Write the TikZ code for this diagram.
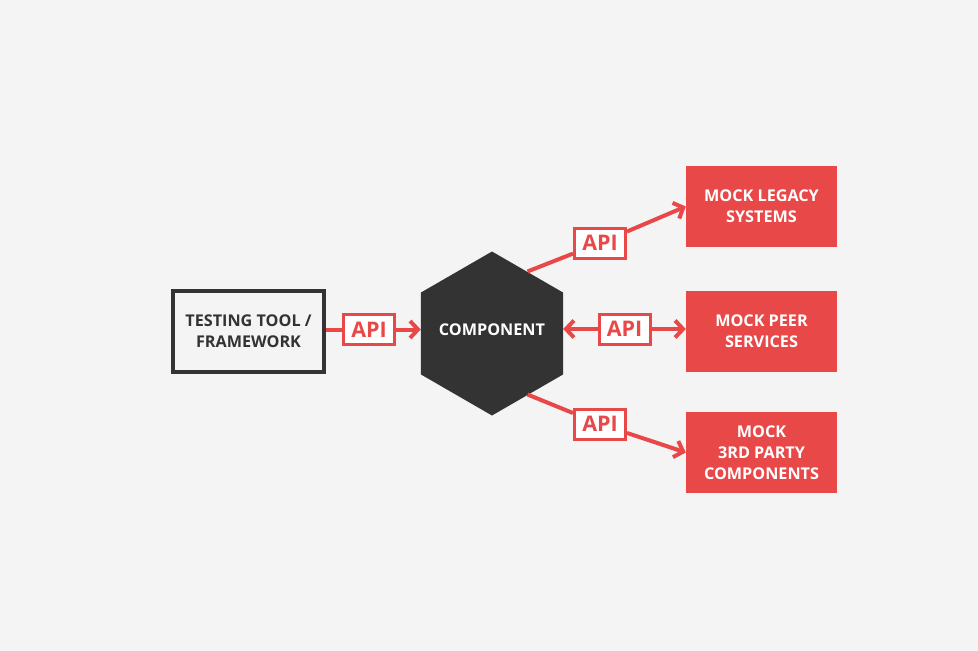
\documentclass[tikz,border=0pt]{standalone}
\usepackage{fontspec}
\setmainfont{Open Sans}
\usetikzlibrary{shapes.geometric,arrows.meta}
\definecolor{bg}{HTML}{F4F4F4}
\definecolor{myred}{HTML}{E94848}
\definecolor{dark}{HTML}{333333}
\tikzset{
  txt/.style={font=\fontsize{16.2}{21}\selectfont\bfseries, align=center},
  frame/.style={draw=dark, line width=4pt, fill=bg, minimum width=151pt, minimum height=81pt, inner sep=0pt, txt, text=dark},
  mock/.style={fill=myred, minimum width=151pt, minimum height=81pt, inner sep=0pt, txt, text=white},
  apibox/.style={draw=myred, line width=3pt, fill=white, minimum width=51pt, minimum height=30pt, inner sep=0pt, text=myred, font=\fontsize{21.5}{22}\selectfont\bfseries},
  hexa/.style={regular polygon, regular polygon sides=6, shape border rotate=90, minimum size=164pt, inner sep=0pt, fill=dark, text=white, txt},
  conn/.style={draw=myred, line width=4pt},
  tip/.style={-{Straight Barb[length=8pt,width=17pt,line width=4pt]}},
}
\begin{document}
\begin{tikzpicture}[x=1pt,y=-1pt]
\fill[bg] (0,0) rectangle (978,651);
\useasboundingbox (0,0) rectangle (978,651);
\node[frame] (test) at (248.5,331.5) {TESTING TOOL /\\FRAMEWORK};
\node[hexa] (comp) at (492,333.5) {};
\node[text=white, txt] (complabel) at (492,330) {COMPONENT};
\node[mock] (legacy) at (761.5,206.5) {MOCK LEGACY\\SYSTEMS};
\node[mock] (peer) at (761.5,331.5) {MOCK PEER\\SERVICES};
\node[mock] (third) at (761.5,452.5) {MOCK\\3RD PARTY\\COMPONENTS};
\coordinate (hTR) at (527.5,271.5);
\coordinate (hBR) at (527.5,394.5);
\node[apibox] (api1) at (369,329.5) {API};
\node[apibox] (apiM) at (624.5,329) {API};
\node[apibox] (apiT) at (600,243) {API};
\node[apibox] (apiB) at (600,424) {API};
\draw[conn] (test.east |- api1) -- (api1.west);
\draw[conn,tip] (api1.east) -- (api1.east -| comp.west);
\draw[conn,tip] (apiM.west) -- (apiM.west -| comp.east);
\draw[conn,tip] (apiM.east) -- (apiM.east -| peer.west);
\draw[conn] (hTR) -- (apiT);
\draw[conn,tip] (apiT) -- (legacy.west);
\draw[conn] (hBR) -- (apiB);
\draw[conn,tip] (apiB) -- (third.west);
\end{tikzpicture}
\end{document}
